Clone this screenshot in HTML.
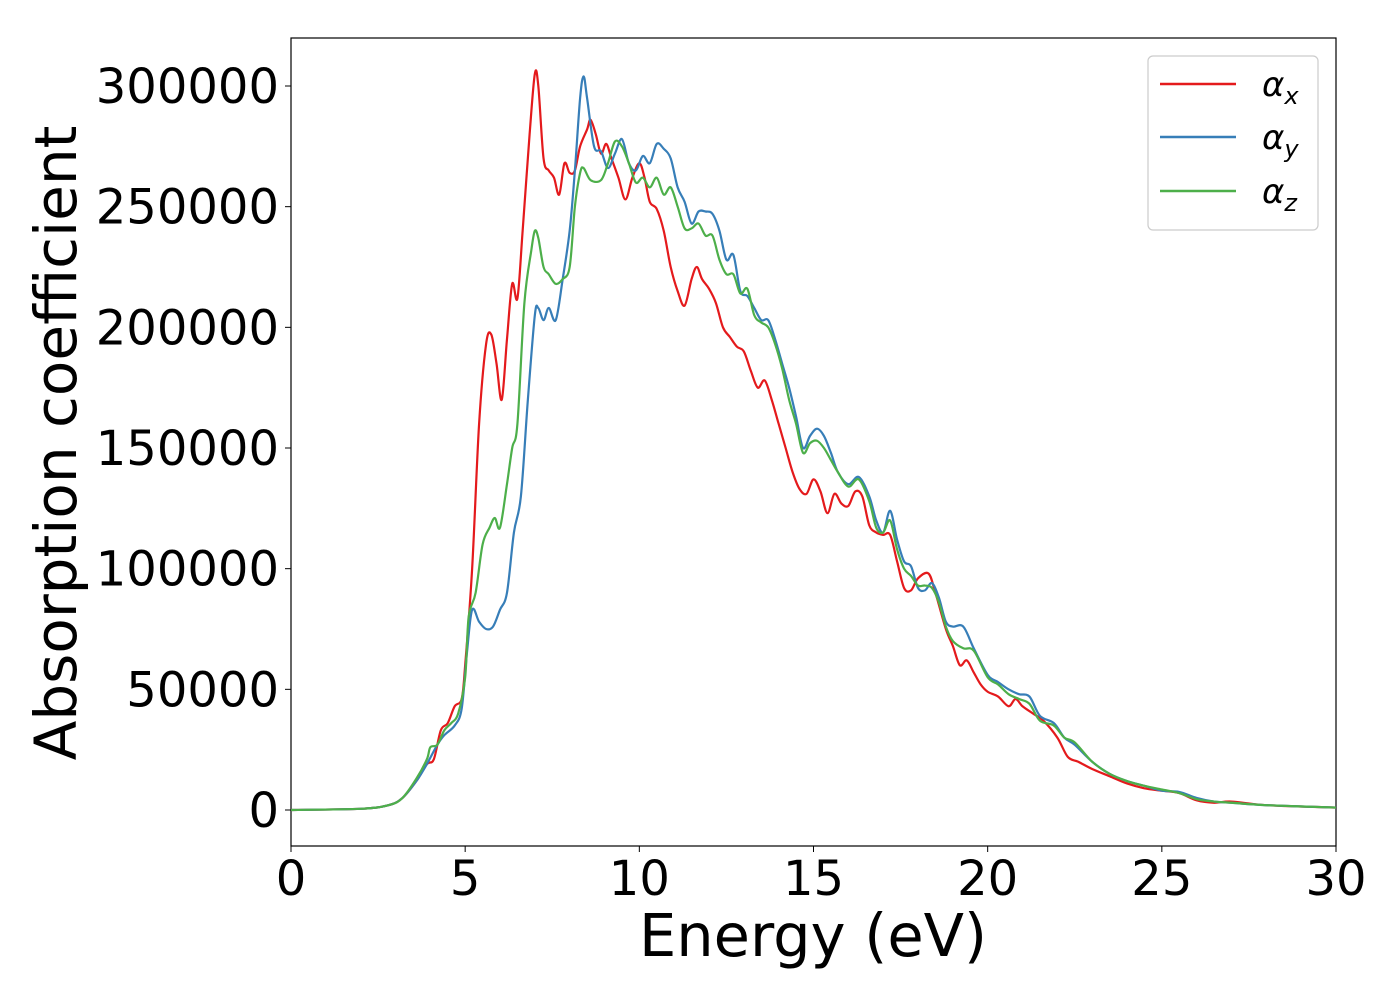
<!DOCTYPE html>
<html><head><meta charset="utf-8"><style>
body{margin:0;background:#fff;width:1400px;height:1000px;overflow:hidden}
text{font-family:"DejaVu Sans","Liberation Sans",sans-serif;fill:#000}
</style></head><body>
<svg id="chart" width="1400" height="1000">
<rect x="291" y="38" width="1045" height="808" fill="none" stroke="#000" stroke-width="1.2"/>
<g id="ticks"></g>
<g id="series"></g>
<text x="813" y="956" font-size="59" text-anchor="middle">Energy (eV)</text>
<text transform="translate(76,443) rotate(-90)" font-size="58" text-anchor="middle">Absorption coefficient</text>
<g>
<rect x="1148" y="56" width="170" height="174" rx="5" fill="#fff" stroke="#ccc" stroke-width="1.2"/>
<line x1="1160" y1="84" x2="1236" y2="84" stroke="#e41a1c" stroke-width="2.5"/>
<text x="1262" y="96" font-size="34" font-style="italic">α<tspan font-size="24" dy="8">x</tspan></text>
<line x1="1160" y1="137" x2="1236" y2="137" stroke="#377eb8" stroke-width="2.5"/>
<text x="1262" y="149" font-size="34" font-style="italic">α<tspan font-size="24" dy="8">y</tspan></text>
<line x1="1160" y1="191" x2="1236" y2="191" stroke="#4daf4a" stroke-width="2.5"/>
<text x="1262" y="203" font-size="34" font-style="italic">α<tspan font-size="24" dy="8">z</tspan></text>
</g>
</svg>
<script>
const xTicks=[0,5,10,15,20,25,30];
const yTicks=[0,50000,100000,150000,200000,250000,300000];
const exE=[0,2,2.8,3.2,3.6,3.9,4.1,4.3,4.5,4.7,4.9,5.0,5.2,5.4,5.6,5.75,5.9,6.05,6.2,6.35,6.5,6.65,6.85,7.0,7.1,7.25,7.4,7.55,7.7,7.85,8.0,8.15,8.3,8.5,8.6,8.75,8.9,9.05,9.2,9.4,9.6,9.8,10.0,10.15,10.3,10.5,10.7,10.9,11.1,11.3,11.5,11.65,11.8,12.0,12.2,12.4,12.6,12.8,13.0,13.2,13.4,13.6,13.8,14.0,14.2,14.4,14.6,14.8,15.0,15.2,15.4,15.6,15.8,16.0,16.2,16.4,16.6,16.8,17.0,17.2,17.4,17.6,17.8,18.0,18.3,18.5,18.8,19.0,19.2,19.4,19.6,19.8,20.0,20.3,20.6,20.8,21.0,21.3,21.6,22.0,22.3,22.6,23.0,23.5,24.0,24.5,25,25.5,26,26.5,27,28,30];
const exV=[0,0.5,2,5,12,19,21,33,36,43,46,60,100,160,193,197,185,170,195,218,212,240,280,305,300,270,265,262,255,268,264,265,275,282,286,280,272,276,270,262,253,262,268,262,252,249,240,225,215,209,220,225,220,216,210,200,196,192,190,182,175,178,170,160,150,140,133,131,137,132,123,131,127,126,132,130,118,115,114,114,103,92,91,96,98,90,75,68,60,62,57,52,49,47,43,46,43,40,37,30,22,20,17,14,11,9,8,7,4,3,3.5,2,1];
const eyE=[0,2,2.8,3.2,3.6,3.9,4.2,4.4,4.7,4.9,5.05,5.2,5.4,5.6,5.8,6.0,6.2,6.4,6.6,6.8,7.0,7.1,7.25,7.4,7.6,7.8,8.0,8.15,8.3,8.4,8.5,8.7,8.9,9.1,9.3,9.5,9.7,9.9,10.1,10.3,10.5,10.7,10.9,11.1,11.3,11.5,11.7,11.9,12.1,12.3,12.5,12.7,12.9,13.1,13.3,13.5,13.7,13.9,14.1,14.3,14.5,14.7,14.9,15.1,15.3,15.5,15.7,16.0,16.3,16.6,16.8,17.0,17.2,17.4,17.6,17.8,18.0,18.2,18.4,18.6,18.8,19.0,19.3,19.6,20.0,20.3,20.6,20.9,21.2,21.5,21.9,22.2,22.5,23,23.5,24,24.5,25,25.5,26,26.5,27,28,30];
const eyV=[0,0.5,2,5,12,19,27,31,35,42,65,83,78,75,76,83,90,115,130,170,205,208,203,208,203,220,240,265,295,304,295,275,273,266,272,278,268,265,271,268,276,274,270,258,252,243,248,248,247,240,228,230,215,213,208,203,203,195,185,175,163,150,155,158,155,148,140,135,138,130,120,115,124,112,103,101,92,91,94,88,78,76,76,67,56,53,50,48,47,39,36,30,27,20,15,12,10,8,7.5,5,3.5,3,2,1];
const ezE=[0,2,2.8,3.2,3.6,3.9,4.0,4.2,4.4,4.6,4.8,5.0,5.1,5.3,5.5,5.7,5.85,6.0,6.2,6.35,6.5,6.7,6.9,7.0,7.1,7.25,7.4,7.6,7.8,8.0,8.15,8.3,8.4,8.6,8.9,9.1,9.3,9.5,9.7,9.9,10.1,10.3,10.5,10.7,10.9,11.1,11.3,11.5,11.7,11.9,12.1,12.3,12.5,12.7,12.9,13.1,13.3,13.5,13.7,13.9,14.1,14.3,14.5,14.7,14.9,15.1,15.3,15.5,15.7,16.0,16.3,16.6,16.8,17.0,17.2,17.4,17.6,17.8,18.0,18.2,18.4,18.6,18.8,19.0,19.3,19.6,20.0,20.3,20.6,20.9,21.2,21.5,21.9,22.2,22.5,23,23.5,24,24.5,25,25.5,26,26.5,27,28,30];
const ezV=[0,0.5,2,5,13,21,26,27,33,36,40,55,80,90,110,117,121,117,135,150,160,210,232,240,237,225,222,218,220,225,250,264,266,261,261,268,277,275,268,260,262,258,262,255,258,250,241,241,243,238,238,228,222,222,214,216,205,202,200,193,183,170,160,148,152,153,150,145,140,134,137,128,117,115,120,108,100,97,93,93,92,86,76,70,67,66,55,52,48,46,44,37,35,30,28,20,15,12,10,8.5,7,4.5,3.5,3,2,1];
const X=e=>291+e*(1045/30);
const Y=v=>810-v*1000*(724/300000);
const NS="http://www.w3.org/2000/svg";
const tg=document.getElementById('ticks');
xTicks.forEach(t=>{
 const l=document.createElementNS(NS,'line');
 l.setAttribute('x1',X(t));l.setAttribute('x2',X(t));l.setAttribute('y1',846);l.setAttribute('y2',852);l.setAttribute('stroke','#000');
 
 
 tg.appendChild(l);
 const s=document.createElementNS(NS,'text');
 s.setAttribute('x',X(t));s.setAttribute('y',895);s.setAttribute('font-size','48');s.setAttribute('text-anchor','middle');s.textContent=t;
 
 
 tg.appendChild(s);
});
yTicks.forEach(t=>{
 const y=Y(t/1000);
 const l=document.createElementNS(NS,'line');
 l.setAttribute('x1',285);l.setAttribute('x2',291);l.setAttribute('y1',y);l.setAttribute('y2',y);l.setAttribute('stroke','#000');
 
 
 tg.appendChild(l);
 const s=document.createElementNS(NS,'text');
 s.setAttribute('x',279);s.setAttribute('y',y+17);s.setAttribute('font-size','48');s.setAttribute('text-anchor','end');s.textContent=t;
 
 
 tg.appendChild(s);
});
const sg=document.getElementById('series');
function smooth(es,vs){
 const p=es.map((e,i)=>[X(e),Y(vs[i])]);
 let d='M'+p[0][0]+','+p[0][1];
 for(let i=0;i<p.length-1;i++){
  const p0=p[Math.max(i-1,0)],p1=p[i],p2=p[i+1],p3=p[Math.min(i+2,p.length-1)];
  const c1=[p1[0]+(p2[0]-p0[0])/6,p1[1]+(p2[1]-p0[1])/6];
  const c2=[p2[0]-(p3[0]-p1[0])/6,p2[1]-(p3[1]-p1[1])/6];
  d+='C'+c1[0]+','+c1[1]+' '+c2[0]+','+c2[1]+' '+p2[0]+','+p2[1];
 }
 return d;
}
[[exE,exV,'#e41a1c','series-alpha-x'],[eyE,eyV,'#377eb8','series-alpha-y'],[ezE,ezV,'#4daf4a','series-alpha-z']].forEach(s=>{
 const p=document.createElementNS(NS,'path');
 p.setAttribute('d',smooth(s[0],s[1]));p.setAttribute('fill','none');p.setAttribute('stroke',s[2]);p.setAttribute('stroke-width','2.2');
 
 
 sg.appendChild(p);
});
</script>
</body></html>
